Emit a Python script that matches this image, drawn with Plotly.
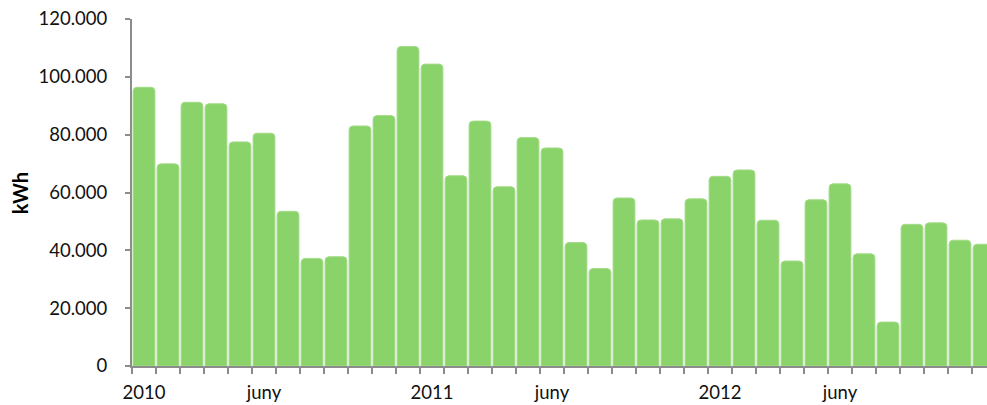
import plotly.graph_objects as go

months = [f"{y}-{m:02d}" for y in (2010, 2011, 2012) for m in range(1, 13)]
values = [96400, 69900, 91200, 90700, 77500, 80500, 53500, 37200, 37800, 83000, 86600, 110500,
          104400, 65800, 84700, 62000, 79000, 75400, 42700, 33700, 58100, 50500, 50900, 57800,
          65600, 67800, 50400, 36300, 57500, 63000, 38800, 15200, 49000, 49500, 43500, 42100]
tick_labels = {"2010-01": "2010", "2010-06": "juny", "2011-01": "2011", "2011-06": "juny",
               "2012-01": "2012", "2012-06": "juny"}
y_ticks = [0, 20000, 40000, 60000, 80000, 100000, 120000]
y_ticktext = ["0", "20.000", "40.000", "60.000", "80.000", "100.000", "120.000"]

FONT = "Lato"
FS = 18.5
AX = "#8c8c8c"

fig = go.Figure(go.Bar(
    x=months, y=values,
    marker=dict(color="#8ad26a", line=dict(color="#a3dc88", width=1), cornerradius=4),
    hoverinfo="x+y",
))

fig.update_layout(
    width=987, height=405,
    margin=dict(l=132, r=0, t=19, b=39),
    paper_bgcolor="white", plot_bgcolor="white",
    bargap=0.09,
    showlegend=False,
    font=dict(family=FONT, size=FS, color="#111111"),
    xaxis=dict(
        type="category",
        range=[-0.5, 35.125],
        tickmode="array",
        tickvals=months,
        ticktext=[tick_labels.get(m, "") for m in months],
        tickson="boundaries",
        tickangle=0,
        automargin=False,
        ticks="outside", ticklen=6, tickwidth=2, tickcolor=AX,
        showline=True, linecolor=AX, linewidth=2,
        showgrid=False, zeroline=False,
        tickfont=dict(family=FONT, size=FS, color="#111111"),
        ticklabelstandoff=9,
    ),
    yaxis=dict(
        range=[0, 120000],
        automargin=False,
        tickmode="array", tickvals=y_ticks, ticktext=y_ticktext,
        ticks="outside", ticklen=5, tickwidth=2, tickcolor=AX,
        showline=True, linecolor=AX, linewidth=2,
        showgrid=False, zeroline=False,
        tickfont=dict(family=FONT, size=FS, color="#111111"),
        ticklabelstandoff=14,
    ),
    annotations=[dict(
        text="<b>kWh</b>", textangle=-90,
        xref="paper", yref="paper",
        x=(19.5 - 132) / 855, y=(366 - 193.7) / 347,
        xanchor="center", yanchor="middle", showarrow=False,
        font=dict(family=FONT, size=20, color="#000000"),
    )],
)

fig.write_html("out.html")
